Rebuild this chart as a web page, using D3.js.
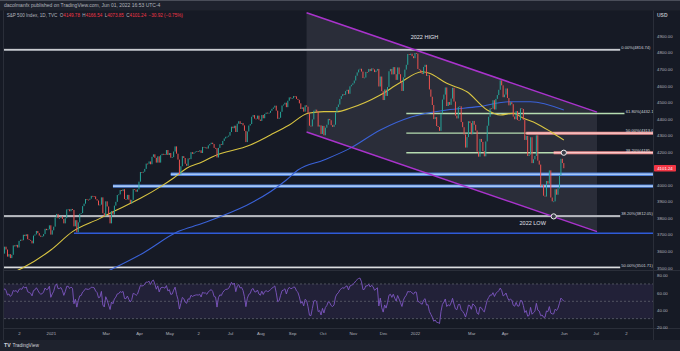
<!DOCTYPE html>
<html>
<head>
<meta charset="utf-8">
<script src="https://cdn.jsdelivr.net/npm/d3@7"></script>
<style>
  html, body { margin: 0; padding: 0; background: #161a25; }
  svg { display: block; font-family: "Liberation Sans", Arial, sans-serif; }
</style>
</head>
<body>
<svg id="chart" width="680" height="351"></svg>
<script>
// daily closes, one row per week (Mon..Fri), null = market holiday
const weekStarts = [
  "2020-10-19", "2020-10-26", "2020-11-02", "2020-11-09", "2020-11-16", "2020-11-23", "2020-11-30",
  "2020-12-07", "2020-12-14", "2020-12-21", "2020-12-28", "2021-01-04", "2021-01-11", "2021-01-18",
  "2021-01-25", "2021-02-01", "2021-02-08", "2021-02-15", "2021-02-22", "2021-03-01", "2021-03-08",
  "2021-03-15", "2021-03-22", "2021-03-29", "2021-04-05", "2021-04-12", "2021-04-19", "2021-04-26",
  "2021-05-03", "2021-05-10", "2021-05-17", "2021-05-24", "2021-05-31", "2021-06-07", "2021-06-14",
  "2021-06-21", "2021-06-28", "2021-07-05", "2021-07-12", "2021-07-19", "2021-07-26", "2021-08-02",
  "2021-08-09", "2021-08-16", "2021-08-23", "2021-08-30", "2021-09-06", "2021-09-13", "2021-09-20",
  "2021-09-27", "2021-10-04", "2021-10-11", "2021-10-18", "2021-10-25", "2021-11-01", "2021-11-08",
  "2021-11-15", "2021-11-22", "2021-11-29", "2021-12-06", "2021-12-13", "2021-12-20", "2021-12-27",
  "2022-01-03", "2022-01-10", "2022-01-17", "2022-01-24", "2022-01-31", "2022-02-07", "2022-02-14",
  "2022-02-21", "2022-02-28", "2022-03-07", "2022-03-14", "2022-03-21", "2022-03-28", "2022-04-04",
  "2022-04-11", "2022-04-18", "2022-04-25", "2022-05-02", "2022-05-09", "2022-05-16", "2022-05-23",
  "2022-05-30"
];
const weekCloses = [
  [3427, 3443, 3436, 3453, 3465], [3401, 3391, 3271, 3310, 3270], [3310, 3369, 3443, 3510, 3509],
  [3550, 3545, 3572, 3537, 3585], [3627, 3610, 3567, 3582, 3558], [3578, 3635, 3629, null, 3638],
  [3622, 3662, 3669, 3666, 3699], [3691, 3702, 3672, 3668, 3663], [3647, 3694, 3701, 3722, 3709],
  [3694, 3687, 3690, 3703, null], [3735, 3727, 3732, 3756, null], [3700, 3726, 3748, 3804, 3825],
  [3799, 3801, 3810, 3795, 3768], [null, 3799, 3852, 3853, 3841], [3855, 3849, 3750, 3787, 3714],
  [3774, 3826, 3830, 3872, 3887], [3915, 3911, 3910, 3917, 3934], [null, 3933, 3931, 3914, 3906],
  [3877, 3881, 3925, 3829, 3811], [3901, 3870, 3820, 3768, 3842], [3821, 3875, 3898, 3939, 3943],
  [3969, 3963, 3974, 3915, 3913], [3940, 3911, 3889, 3910, 3975], [3971, 3959, 3973, 4020, null],
  [4078, 4074, 4080, 4097, 4129], [4128, 4142, 4125, 4170, 4185], [4164, 4135, 4173, 4135, 4180],
  [4188, 4187, 4183, 4211, 4181], [4193, 4165, 4168, 4202, 4233], [4189, 4153, 4063, 4113, 4174],
  [4163, 4128, 4116, 4160, 4156], [4198, 4188, 4196, 4201, 4204], [null, 4202, 4209, 4193, 4230],
  [4226, 4227, 4220, 4239, 4247], [4255, 4247, 4224, 4222, 4166], [4224, 4246, 4242, 4266, 4281],
  [4291, 4292, 4298, 4320, 4352], [null, 4343, 4358, 4320, 4370], [4385, 4369, 4374, 4360, 4327],
  [4259, 4323, 4359, 4368, 4412], [4422, 4401, 4400, 4419, 4395], [4387, 4423, 4403, 4429, 4437],
  [4432, 4436, 4448, 4460, 4468], [4479, 4449, 4400, 4406, 4442], [4480, 4486, 4497, 4470, 4509],
  [4529, 4523, 4524, 4537, 4535], [null, 4520, 4514, 4493, 4459], [4469, 4443, 4481, 4473, 4433],
  [4358, 4354, 4396, 4449, 4455], [4443, 4353, 4360, 4308, 4357], [4300, 4346, 4364, 4399, 4391],
  [4361, 4351, 4364, 4438, 4471], [4486, 4520, 4537, 4549, 4545], [4567, 4575, 4551, 4596, 4605],
  [4614, 4631, 4660, 4680, 4697], [4702, 4685, 4646, 4649, 4683], [4682, 4701, 4688, 4704, 4698],
  [4682, 4691, 4701, null, 4595], [4655, 4567, 4513, 4577, 4538], [4592, 4687, 4701, 4668, 4712],
  [4669, 4635, 4710, 4669, 4621], [4568, 4650, 4697, 4726, null], [4791, 4786, 4793, 4778, 4766],
  [4797, 4794, 4701, 4696, 4677], [4670, 4713, 4726, 4659, 4663], [null, 4577, 4533, 4483, 4398],
  [4410, 4356, 4350, 4327, 4432], [4516, 4546, 4589, 4477, 4501], [4484, 4522, 4587, 4504, 4419],
  [4402, 4472, 4475, 4380, 4349], [null, 4305, 4226, 4289, 4385], [4374, 4306, 4387, 4364, 4329],
  [4201, 4171, 4278, 4260, 4204], [4173, 4263, 4358, 4412, 4463], [4461, 4512, 4456, 4520, 4543],
  [4575, 4632, 4602, 4530, 4546], [4583, 4525, 4481, 4500, 4488], [4413, 4397, 4447, 4392, null],
  [4391, 4463, 4459, 4394, 4272], [4296, 4175, 4184, 4288, 4132], [4155, 4175, 4300, 4147, 4123],
  [3991, 4001, 3935, 3930, 4024], [4008, 4088, 3924, 3901, 3901], [3974, 3941, 3979, 4058, 4158],
  [null, 4132.16, 4101.24]
];

// moving averages
const sma50Dates = ["2020-11-02", "2020-12-03", "2021-01-04", "2021-01-26", "2021-02-23", "2021-03-04",
  "2021-04-05", "2021-04-23", "2021-05-06", "2021-05-19", "2021-06-04", "2021-06-15", "2021-07-22",
  "2021-08-11", "2021-08-30", "2021-09-17", "2021-10-04", "2021-10-15", "2021-10-28", "2021-11-29",
  "2021-12-16", "2022-01-10", "2022-01-18", "2022-02-03", "2022-02-24", "2022-03-16", "2022-03-29",
  "2022-04-11", "2022-04-21", "2022-05-04", "2022-05-18", "2022-06-01"];
const sma50Values = [3420, 3496, 3607, 3718, 3798, 3829, 3919, 3990, 4042, 4101, 4140, 4171, 4241,
  4302, 4362, 4433, 4443, 4443, 4463, 4543, 4614, 4684, 4675, 4614, 4563, 4453, 4423, 4433, 4403,
  4372, 4322, 4272];
const sma200Dates = ["2020-11-02", "2021-01-04", "2021-03-04", "2021-04-07", "2021-05-11", "2021-06-04",
  "2021-08-26", "2021-09-08", "2021-10-04", "2021-10-28", "2021-11-29", "2021-12-30", "2022-02-03",
  "2022-03-08", "2022-04-06", "2022-04-28", "2022-06-01"];
const sma200Values = [3190, 3330, 3486, 3589, 3718, 3768, 4030, 4090, 4151, 4221, 4332, 4412, 4453,
  4473, 4503, 4503, 4453];

// drawings
const fibPrices = [4816.74, 4432.15, 4313.07, 4194.78, 3812.05, 3501.71];
const fibLabels = ["0.00%(4816.74)", "61.80%(4432.1", "50.00%(4313.0", "38.20%(4195.",
  "38.20%(3812.05)", "50.00%(3501.71)"];
const fibStarts = ["2020-10-01", "2021-12-23", "2021-12-23", "2021-12-23", "2020-10-01", "2020-10-01"];
const fibEnds = ["2022-07-26", "2022-07-29", "2022-07-29", "2022-07-29", "2022-07-26", "2022-07-26"];
const fibKinds = ["white", "green", "green", "green", "white", "white"];
const zonePrices = [4065, 3993];
const zoneStarts = ["2021-05-04", "2021-03-08"];
const supportPrice = 3708;
const supportStart = "2021-01-27";
const resistPrices = [4313.07, 4194.78];
const resistStarts = ["2022-04-25", "2022-05-20"];
const channelDates = ["2021-09-16", "2022-07-04"];
const channelUpper = [5040, 4440];
const channelLower = [4320, 3718];
const markerDates = ["2022-06-01", "2022-05-20"];
const markerPrices = [4194.78, 3810];

const priceTicks = [3500, 3600, 3700, 3800, 3900, 4000, 4100, 4200, 4300, 4400, 4500, 4600, 4700, 4800, 4900];
const rsiTicks = [20, 40, 60, 80];
const tickDates = ["2020-12-01", "2021-01-04", "2021-03-01", "2021-04-01", "2021-05-03", "2021-06-01",
  "2021-07-01", "2021-08-02", "2021-09-01", "2021-10-01", "2021-11-01", "2021-12-01", "2022-01-03",
  "2022-03-01", "2022-04-01", "2022-06-01", "2022-07-01", "2022-08-01"];
const tickLabels = ["2", "2021", "Mar", "Apr", "May", "2", "Jul", "Aug", "Sep", "Oct", "Nov", "Dec",
  "2022", "Mar", "Apr", "Jun", "Jul", "2"];

const lastClose = 4101.24;

// ---------------------------------------------------------------
const W = 680, H = 351;
const paneL = 4, paneR = 653;
const priceTop = 10.5, priceBottom = 270.5;
const rsiTop = 271, rsiBottom = 328.5;
const barStep = 1.445, lastBarX = 563.8;

const parse = d3.timeParse("%Y-%m-%d");
const svg = d3.select("#chart");

const bars = [];
weekStarts.forEach((ws, w) => {
  const monday = parse(ws);
  weekCloses[w].forEach((c, k) => {
    if (c == null) return;
    bars.push({ date: d3.timeDay.offset(monday, k), close: c });
  });
});
const nBars = bars.length;
const lastDate = bars[nBars - 1].date;
const futureDates = d3.timeDay.range(d3.timeDay.offset(lastDate, 1), parse("2022-10-01"))
  .filter(d => d.getDay() % 6 !== 0);
const allDates = bars.map(b => b.date).concat(futureDates);

const x = d3.scaleTime()
  .domain(allDates)
  .range(allDates.map((d, i) => lastBarX + (i - (nBars - 1)) * barStep));
const y = d3.scaleLinear().domain([3500, 4900]).range([267.7, 36]);
const yRsi = d3.scaleLinear().domain([20, 80]).range([327.3, 275.3]);

// RSI(14), Wilder smoothing
const rsi = new Array(nBars).fill(null);
let avgGain = 0, avgLoss = 0;
for (let i = 1; i <= 14; i++) {
  const ch = bars[i].close - bars[i - 1].close;
  if (ch > 0) avgGain += ch; else avgLoss -= ch;
}
avgGain /= 14; avgLoss /= 14;
rsi[14] = 100 - 100 / (1 + avgGain / avgLoss);
for (let i = 15; i < nBars; i++) {
  const ch = bars[i].close - bars[i - 1].close;
  avgGain = (avgGain * 13 + Math.max(ch, 0)) / 14;
  avgLoss = (avgLoss * 13 + Math.max(-ch, 0)) / 14;
  rsi[i] = 100 - 100 / (1 + avgGain / avgLoss);
}

// ---- frame ----
svg.append("rect").attr("width", W).attr("height", H).attr("fill", "#161a25");
svg.append("rect").attr("width", W).attr("height", priceTop).attr("fill", "#1e222d");
svg.append("rect").attr("width", W).attr("height", 1).attr("fill", "#4a4e59");
svg.append("rect").attr("y", 340).attr("width", W).attr("height", 11).attr("fill", "#1e222d");

const defs = svg.append("defs");
defs.append("clipPath").attr("id", "clipPrice").append("rect")
  .attr("x", paneL).attr("y", priceTop).attr("width", paneR - paneL).attr("height", priceBottom - priceTop);
defs.append("clipPath").attr("id", "clipRsi").append("rect")
  .attr("x", paneL).attr("y", rsiTop).attr("width", paneR - paneL).attr("height", rsiBottom - rsiTop);

const price = svg.append("g").attr("clip-path", "url(#clipPrice)");

// channel
const chX = channelDates.map(d => x(parse(d)));
price.append("path")
  .attr("d", `M${chX[0]},${y(channelUpper[0])}L${chX[1]},${y(channelUpper[1])}L${chX[1]},${y(channelLower[1])}L${chX[0]},${y(channelLower[0])}Z`)
  .attr("fill", "rgba(178,181,190,0.13)");

// horizontal levels
function hline(g, start, end, p, color, width) {
  g.append("line")
    .attr("x1", x(parse(start))).attr("x2", x(parse(end)))
    .attr("y1", y(p)).attr("y2", y(p))
    .attr("stroke", color).attr("stroke-width", width);
}
zonePrices.forEach((p, i) => {
  hline(price, zoneStarts[i], "2022-09-30", p, "#4d7fd6", 3.4);
  hline(price, zoneStarts[i], "2022-09-30", p, "#a6c6f5", 1.6);
});
hline(price, supportStart, "2022-09-30", supportPrice, "#2f5bd9", 1.5);
fibPrices.forEach((p, i) => {
  if (fibKinds[i] === "white") {
    hline(price, fibStarts[i], fibEnds[i], p, "#7d808a", 2.2);
    hline(price, fibStarts[i], fibEnds[i], p, "#e6e7ea", 1);
  } else {
    hline(price, fibStarts[i], fibEnds[i], p, "#b5dbb0", 1.4);
  }
});
resistPrices.forEach((p, i) => {
  hline(price, resistStarts[i], "2022-09-30", p, "#e58c8c", 3);
  hline(price, resistStarts[i], "2022-09-30", p, "#ffd8d8", 1);
});
price.selectAll(".fibLabel").data(fibPrices).join("text")
  .attr("x", (d, i) => x(parse(fibEnds[i])) + 1.2)
  .attr("y", d => y(d) - 0.8)
  .attr("font-size", 4.1).attr("fill", "#d1d4dc")
  .text((d, i) => fibLabels[i]);

// moving averages
const maLine = d3.line().x(d => x(d[0])).y(d => y(d[1])).curve(d3.curveMonotoneX);
price.append("path")
  .attr("d", maLine(sma200Dates.map((d, i) => [parse(d), sma200Values[i]])))
  .attr("fill", "none").attr("stroke", "#3a62d8").attr("stroke-width", 1.1);
price.append("path")
  .attr("d", maLine(sma50Dates.map((d, i) => [parse(d), sma50Values[i]])))
  .attr("fill", "none").attr("stroke", "#d9c542").attr("stroke-width", 1.1);

// candles (open = previous close)
const candles = bars.slice(1).map((b, i) => ({ date: b.date, open: bars[i].close, close: b.close }));
price.selectAll(".candle").data(candles).join("rect")
  .attr("x", d => x(d.date) - 0.5)
  .attr("width", 1)
  .attr("y", d => y(Math.max(d.open, d.close)))
  .attr("height", d => Math.max(0.8, Math.abs(y(d.open) - y(d.close))))
  .attr("fill", d => d.close >= d.open ? "#26a69a" : "#ef5350");

// channel borders
price.append("line")
  .attr("x1", chX[0]).attr("x2", chX[1])
  .attr("y1", y(channelUpper[0])).attr("y2", y(channelUpper[1]))
  .attr("stroke", "#a933cc").attr("stroke-width", 1.5);
price.append("line")
  .attr("x1", chX[0]).attr("x2", chX[1])
  .attr("y1", y(channelLower[0])).attr("y2", y(channelLower[1]))
  .attr("stroke", "#a933cc").attr("stroke-width", 1.5);

// markers & annotations
price.selectAll(".marker").data(markerPrices).join("circle")
  .attr("cx", (d, i) => x(parse(markerDates[i])))
  .attr("cy", d => y(d))
  .attr("r", 2.6)
  .attr("fill", "#3a3e49").attr("stroke", "#f0f0f0").attr("stroke-width", 1);
price.append("text")
  .attr("x", x(parse("2022-01-04")) + 8).attr("y", y(4818) - 10.8)
  .attr("text-anchor", "middle").attr("font-size", 5.5).attr("fill", "#e0e3eb")
  .text("2022 HIGH");
price.append("text")
  .attr("x", x(parse("2022-05-20")) - 21).attr("y", y(3810) + 8.2)
  .attr("text-anchor", "middle").attr("font-size", 5.5).attr("fill", "#e0e3eb")
  .text("2022 LOW");

// ---- RSI pane ----
const rsiG = svg.append("g").attr("clip-path", "url(#clipRsi)");
rsiG.append("rect")
  .attr("x", paneL).attr("width", paneR - paneL)
  .attr("y", yRsi(70)).attr("height", yRsi(30) - yRsi(70))
  .attr("fill", "rgba(126,87,194,0.12)");
[70, 50, 30].forEach(v => {
  rsiG.append("line")
    .attr("x1", paneL).attr("x2", paneR).attr("y1", yRsi(v)).attr("y2", yRsi(v))
    .attr("stroke", "#5d606b").attr("stroke-width", 0.8).attr("stroke-dasharray", "2,2");
});
const rsiPts = bars.map((b, i) => [b.date, rsi[i]]).filter(d => d[1] != null);
rsiG.append("path")
  .attr("d", d3.line().x(d => x(d[0])).y(d => yRsi(d[1]))(rsiPts))
  .attr("fill", "none").attr("stroke", "#7e57c2").attr("stroke-width", 0.9);

// ---- separators ----
svg.append("line").attr("x1", paneR + 0.5).attr("x2", paneR + 0.5).attr("y1", priceTop).attr("y2", 340)
  .attr("stroke", "#2a2e39");
svg.append("line").attr("x1", 3.5).attr("x2", 3.5).attr("y1", priceTop).attr("y2", 340)
  .attr("stroke", "#2a2e39");
[priceBottom, rsiBottom].forEach(v => {
  svg.append("line").attr("x1", paneL).attr("x2", W).attr("y1", v).attr("y2", v)
    .attr("stroke", "#2a2e39");
});

// ---- axes ----
const yAxis = d3.axisRight(y).tickValues(priceTicks).tickFormat(d3.format(".2f")).tickSize(0).tickPadding(4);
const gy = svg.append("g").attr("transform", `translate(${paneR},0)`).call(yAxis);
const rAxis = d3.axisRight(yRsi).tickValues(rsiTicks).tickFormat(d3.format(".2f")).tickSize(0).tickPadding(4);
const gr = svg.append("g").attr("transform", `translate(${paneR},0)`).call(rAxis);
const xAxis = d3.axisBottom(x).tickValues(tickDates.map(parse)).tickFormat((d, i) => tickLabels[i])
  .tickSize(0).tickPadding(3);
const gx = svg.append("g").attr("transform", `translate(0,${rsiBottom})`).call(xAxis);
[gy, gr, gx].forEach(g => {
  g.select(".domain").remove();
  g.selectAll("text").attr("font-size", 4.3).attr("fill", "#b2b5be")
    .attr("font-family", "Liberation Sans, Arial, sans-serif");
});

svg.append("text").attr("x", 657).attr("y", 17.3).attr("font-size", 5).attr("font-weight", "bold")
  .attr("fill", "#b2b5be").text("USD");

// last price label
svg.append("rect")
  .attr("x", paneR + 1).attr("width", 22).attr("y", y(lastClose) - 3.3).attr("height", 6.6)
  .attr("rx", 0.8).attr("fill", "#f23645");
svg.append("text")
  .attr("x", paneR + 12).attr("y", y(lastClose) + 1.5)
  .attr("text-anchor", "middle").attr("font-size", 4.3).attr("fill", "#ffffff")
  .text(d3.format(".2f")(lastClose));

// ---- header & legend ----
svg.append("text").attr("x", 4).attr("y", 7.4).attr("font-size", 5).attr("fill", "#b2b5be")
  .text("dacolmanfx published on TradingView.com, Jun 01, 2022 16:53 UTC-4");

const legend = svg.append("text").attr("x", 6.7).attr("y", 17.4).attr("font-size", 4.6);
legend.append("tspan").attr("fill", "#b2b5be").text("S&P 500 Index, 1D, TVC");
[["O", "4149.78"], ["H", "4166.54"], ["L", "4073.85"], ["C", "4101.24"]].forEach(([k, v]) => {
  legend.append("tspan").attr("dx", 2.4).attr("fill", "#b2b5be").text(k);
  legend.append("tspan").attr("fill", "#f23645").text(v);
});
legend.append("tspan").attr("dx", 2.4).attr("fill", "#f23645").text("\u221230.92 (\u22120.75%)");

// ---- footer logo ----
svg.append("text").attr("x", 4).attr("y", 347.3).attr("font-size", 5.2).attr("font-weight", "bold")
  .attr("fill", "#d1d4dc").text("TV");
svg.append("text").attr("x", 12.5).attr("y", 347.3).attr("font-size", 4.8)
  .attr("fill", "#d1d4dc").text("TradingView");
</script>
</body>
</html>
